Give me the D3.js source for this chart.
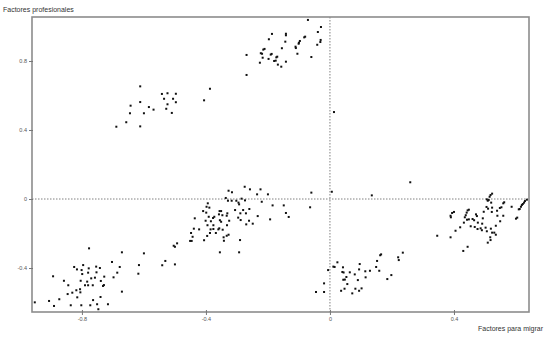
<!DOCTYPE html>
<html>
<head>
<meta charset="utf-8">
<script src="https://cdn.jsdelivr.net/npm/d3@7"></script>
<style>
  body { margin: 0; background: #fff; }
  svg { display: block; font-family: "Liberation Sans", Arial, sans-serif; }
</style>
</head>
<body>
<svg id="chart" width="553" height="337"></svg>
<script>
// valores [factores para migrar, factores profesionales]
const grupoInfIzq = [
  [-0.952,-0.599],[-0.906,-0.591],[-0.890,-0.620],[-0.873,-0.581],[-0.893,-0.448],[-0.858,-0.474],
  [-0.844,-0.500],[-0.846,-0.551],[-0.831,-0.543],[-0.836,-0.616],[-0.825,-0.394],[-0.816,-0.408],
  [-0.801,-0.412],[-0.796,-0.383],[-0.777,-0.286],[-0.778,-0.402],[-0.799,-0.435],[-0.780,-0.427],
  [-0.754,-0.392],[-0.742,-0.400],[-0.753,-0.425],[-0.770,-0.460],[-0.758,-0.456],[-0.804,-0.474],
  [-0.783,-0.479],[-0.790,-0.500],[-0.780,-0.500],[-0.765,-0.500],[-0.739,-0.475],[-0.728,-0.450],
  [-0.729,-0.499],[-0.732,-0.504],[-0.818,-0.529],[-0.806,-0.523],[-0.805,-0.541],[-0.815,-0.570],
  [-0.802,-0.616],[-0.773,-0.616],[-0.764,-0.586],[-0.751,-0.610],[-0.747,-0.639],[-0.740,-0.568],
  [-0.716,-0.610],[-0.703,-0.365],[-0.698,-0.454],[-0.686,-0.427],[-0.678,-0.394],[-0.671,-0.309],
  [-0.671,-0.537],[-0.618,-0.433],[-0.616,-0.383],[-0.600,-0.315],[-0.541,-0.384],[-0.531,-0.359],
  [-0.500,-0.379],[-0.504,-0.271],[-0.500,-0.277],[-0.493,-0.257]
];
const grupoCentroIzq = [
  [-0.451,-0.243],[-0.446,-0.243],[-0.443,-0.219],[-0.448,-0.197],[-0.439,-0.172],[-0.436,-0.112],
  [-0.422,-0.176],[-0.406,-0.239],[-0.396,-0.214],[-0.387,-0.197],[-0.385,-0.176],[-0.376,-0.174],
  [-0.368,-0.197],[-0.360,-0.176],[-0.357,-0.170],[-0.346,-0.178],[-0.343,-0.222],[-0.342,-0.242],
  [-0.333,-0.213],[-0.327,-0.207],[-0.332,-0.152],[-0.325,-0.126],[-0.355,-0.123],[-0.351,-0.132],
  [-0.376,-0.152],[-0.377,-0.110],[-0.373,-0.103],[-0.384,-0.129],[-0.395,-0.152],[-0.391,-0.103],
  [-0.401,-0.126],[-0.399,-0.079],[-0.409,-0.070],[-0.398,-0.045],[-0.389,-0.050],[-0.394,-0.025],
  [-0.356,-0.070],[-0.351,-0.070],[-0.358,-0.089],[-0.347,-0.094],[-0.331,-0.083],[-0.333,-0.097],
  [-0.355,-0.309],[-0.293,-0.309],[-0.290,-0.238],[-0.329,-0.010],[-0.336,0.006],[-0.327,0.048],
  [-0.316,0.039],[-0.317,-0.010],[-0.306,-0.064],[-0.302,-0.010],[-0.295,-0.021],[-0.293,-0.031],
  [-0.285,0.002],[-0.275,0.071],[-0.274,-0.008],[-0.280,-0.064],[-0.289,-0.083],[-0.296,-0.108],
  [-0.288,-0.122],[-0.271,-0.083],[-0.270,-0.147],[-0.261,-0.126],[-0.260,-0.058],[-0.258,0.056],
  [-0.249,-0.143],[-0.235,0.027],[-0.233,-0.099],[-0.224,0.056],[-0.220,-0.016],[-0.200,0.027],
  [-0.193,-0.118],[-0.185,-0.037],[-0.149,-0.037],[-0.142,-0.081],[-0.133,-0.104],[-0.064,-0.048],
  [-0.060,0.037],[0.006,0.042]
];
const grupoInfCentro = [
  [-0.006,-0.412],[0.011,-0.392],[0.015,-0.394],[0.024,-0.367],[0.042,-0.396],[-0.019,-0.489],
  [-0.045,-0.539],[-0.019,-0.539],[0.040,-0.423],[0.044,-0.426],[0.053,-0.452],[0.043,-0.468],
  [0.048,-0.467],[0.064,-0.425],[0.080,-0.437],[0.094,-0.408],[0.056,-0.493],[0.047,-0.520],
  [0.036,-0.532],[0.082,-0.520],[0.072,-0.547],[0.094,-0.532],[0.090,-0.470],[0.096,-0.377],
  [0.102,-0.518],[0.115,-0.454],[0.114,-0.419],[0.129,-0.416],[0.152,-0.359],[0.149,-0.394],
  [0.159,-0.416],[0.162,-0.326],[0.165,-0.321],[0.185,-0.464],[0.198,-0.441],[0.220,-0.338],
  [0.222,-0.354],[0.235,-0.311]
];
const sueltos = [[0.135,0.021],[0.259,0.097],[0.013,0.504]];
const grupoDer = [
  [0.346,-0.213],[0.389,-0.222],[0.389,-0.097],[0.390,-0.106],[0.400,-0.075],[0.394,-0.081],
  [0.405,-0.184],[0.420,-0.164],[0.430,-0.301],[0.444,-0.277],[0.432,-0.137],[0.438,-0.094],
  [0.435,-0.106],[0.441,-0.079],[0.444,-0.066],[0.448,-0.062],[0.442,-0.120],[0.448,-0.118],
  [0.454,-0.158],[0.460,-0.116],[0.465,-0.123],[0.474,-0.099],[0.471,-0.089],[0.477,-0.137],
  [0.467,-0.162],[0.476,-0.174],[0.486,-0.170],[0.491,-0.143],[0.490,-0.181],[0.493,-0.112],
  [0.496,-0.074],[0.502,-0.166],[0.506,-0.187],[0.509,-0.253],[0.518,-0.238],[0.517,-0.222],
  [0.523,-0.195],[0.519,-0.172],[0.535,-0.207],[0.530,-0.195],[0.535,-0.155],[0.505,-0.046],
  [0.510,-0.056],[0.523,-0.050],[0.522,-0.075],[0.520,-0.021],[0.506,-0.002],[0.509,-0.010],
  [0.512,-0.006],[0.515,0.013],[0.518,0.023],[0.523,0.031],[0.539,-0.068],[0.540,-0.097],
  [0.548,-0.052],[0.553,-0.048],[0.549,-0.129],[0.559,-0.025],[0.562,-0.019],[0.559,-0.097],
  [0.586,-0.045],[0.600,-0.114],[0.604,-0.108],[0.609,-0.060],[0.612,-0.058],[0.616,-0.045],
  [0.619,-0.035],[0.622,-0.029],[0.626,-0.021],[0.629,-0.012],[0.635,-0.004]
];
const grupoSupIzq = [
  [-0.612,0.653],[-0.542,0.609],[-0.524,0.613],[-0.497,0.610],[-0.535,0.581],[-0.506,0.581],
  [-0.497,0.561],[-0.524,0.549],[-0.528,0.523],[-0.510,0.499],[-0.612,0.562],[-0.643,0.541],
  [-0.584,0.533],[-0.569,0.518],[-0.645,0.497],[-0.600,0.497],[-0.657,0.445],[-0.689,0.419],
  [-0.612,0.421],[-0.387,0.639],[-0.406,0.572]
];
const grupoSupCentro = [
  [-0.071,1.038],[-0.029,0.997],[-0.039,0.968],[-0.187,0.957],[-0.142,0.958],[-0.142,0.949],
  [-0.197,0.926],[-0.144,0.912],[-0.080,0.941],[-0.083,0.937],[-0.097,0.916],[-0.100,0.906],
  [-0.101,0.900],[-0.030,0.922],[-0.031,0.910],[-0.041,0.894],[-0.111,0.883],[-0.110,0.875],
  [-0.155,0.874],[-0.211,0.870],[-0.215,0.866],[-0.269,0.835],[-0.223,0.845],[-0.219,0.842],
  [-0.188,0.841],[-0.191,0.837],[-0.105,0.842],[-0.217,0.819],[-0.170,0.825],[-0.173,0.821],
  [-0.198,0.812],[-0.060,0.823],[-0.226,0.790],[-0.180,0.800],[-0.175,0.802],[-0.142,0.796],
  [-0.168,0.779],[-0.157,0.767],[-0.269,0.719]
];
const ticksX = [-0.8, -0.4, 0, 0.4];
const ticksY = [-0.4, 0, 0.4, 0.8];
const tituloX = "Factores para migrar";
const tituloY = "Factores profesionales";

const puntos = [].concat(grupoInfIzq, grupoCentroIzq, grupoInfCentro, sueltos,
                         grupoDer, grupoSupIzq, grupoSupCentro);

const svg = d3.select('#chart');
const m = { left: 32, right: 529, top: 17, bottom: 312 };

const x = d3.scaleLinear().domain([-0.961, 0.642]).range([m.left, m.right]);
const y = d3.scaleLinear().domain([-0.655, 1.055]).range([m.bottom, m.top]);

// lineas de referencia punteadas
svg.append('line')
   .attr('x1', x(0)).attr('x2', x(0)).attr('y1', m.top).attr('y2', m.bottom)
   .attr('stroke', '#808080').attr('stroke-width', 1).attr('stroke-dasharray', '1.5,1.5');
svg.append('line')
   .attr('x1', m.left).attr('x2', m.right).attr('y1', y(0)).attr('y2', y(0))
   .attr('stroke', '#808080').attr('stroke-width', 1).attr('stroke-dasharray', '1.5,1.5');

// marco
svg.append('rect')
   .attr('x', m.left).attr('y', m.top).attr('width', m.right - m.left).attr('height', m.bottom - m.top)
   .attr('fill', 'none').attr('stroke', '#8c8c8c').attr('stroke-width', 1.6);

const fmt = d => d === 0 ? '0' : String(d);

const ax = svg.append('g')
   .attr('transform', `translate(0,${m.bottom})`)
   .call(d3.axisBottom(x).tickValues(ticksX).tickFormat(fmt).tickSizeInner(3).tickSizeOuter(0).tickPadding(2));
ax.select('.domain').remove();
ax.selectAll('.tick line').attr('y1', -2).attr('stroke', '#777');
ax.selectAll('.tick text').attr('font-size', 5.5).attr('fill', '#555').attr('font-family', null);

const ay = svg.append('g')
   .attr('transform', `translate(${m.left},0)`)
   .call(d3.axisLeft(y).tickValues(ticksY).tickFormat(fmt).tickSizeInner(3).tickSizeOuter(0).tickPadding(2));
ay.select('.domain').remove();
ay.selectAll('.tick line').attr('x1', 1).attr('stroke', '#777');
ay.selectAll('.tick text').attr('font-size', 5.5).attr('fill', '#555').attr('font-family', null);

// puntos
svg.append('g')
   .selectAll('rect')
   .data(puntos)
   .enter()
   .append('rect')
   .attr('x', d => x(d[0]) - 1)
   .attr('y', d => y(d[1]) - 1)
   .attr('width', 2)
   .attr('height', 2)
   .attr('fill', '#111');

svg.append('text')
   .attr('x', 3).attr('y', 12)
   .attr('font-size', 7).attr('fill', '#333')
   .text(tituloY);
svg.append('text')
   .attr('x', 543).attr('y', 330.5)
   .attr('text-anchor', 'end')
   .attr('font-size', 7).attr('fill', '#333')
   .text(tituloX);
</script>
</body>
</html>
